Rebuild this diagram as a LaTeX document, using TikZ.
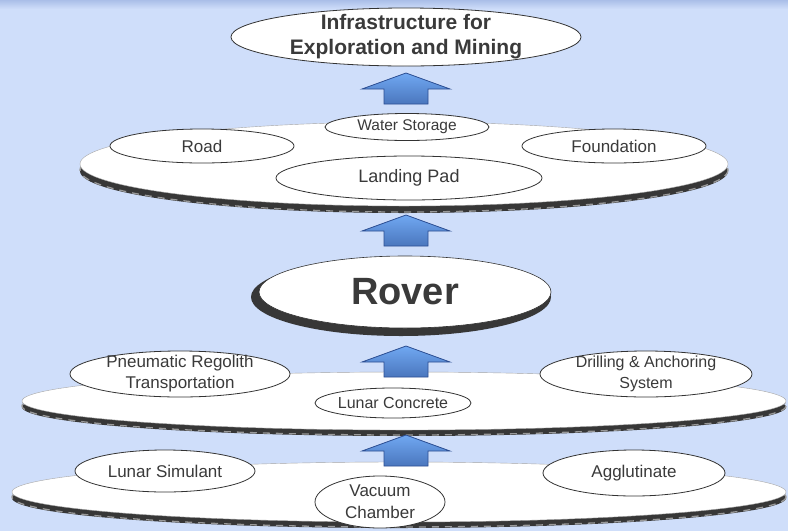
\documentclass[tikz,border=0pt]{standalone}
\usepackage{fontspec}
\setmainfont{Liberation Sans}
\usetikzlibrary{shapes.geometric}

\definecolor{bgblue}{RGB}{207,222,250}
\definecolor{bgtop}{RGB}{170,190,232}
\definecolor{rimgray}{RGB}{55,55,55}
\definecolor{facegray}{RGB}{178,178,178}
\definecolor{inkgray}{RGB}{58,58,58}
\definecolor{arrowlight}{RGB}{112,168,242}
\definecolor{arrowdark}{RGB}{44,78,146}

% white top of a platform, going grey towards the rim
\pgfdeclareradialshading{discface}{\pgfpoint{0bp}{0bp}}{color(0bp)=(white); color(30bp)=(white); color(50bp)=(facegray)}

\tikzset{
  disc/.style={ellipse, draw=gray!70, inner sep=0pt, shading=discface},
  oval/.style={ellipse, draw=black!80, line width=0.8pt, fill=white, inner sep=0pt},
  txt/.style={text=inkgray, align=center, font=\fontsize{17}{21}\selectfont},
  blockarrow/.style={draw=arrowdark, line width=0.8pt, top color=arrowlight, bottom color=arrowdark!55!arrowlight},
}

\begin{document}
\begin{tikzpicture}[x=1pt, y=-1pt]
  \useasboundingbox (0,0) rectangle (788,531);
  \fill[bgblue] (0,0) rectangle (788,531);
  \shade[top color=bgtop, bottom color=bgblue] (0,0) rectangle (788,9);

  % the three platforms: rim first, face on top
  \foreach \n/\cx/\cy/\rx/\ry/\s in {1/404/164/324/42/7, 2/404/401/382/29/6, 3/399/492/387/30/6}{
    \fill[rimgray] (\cx,\cy+\s) ellipse [x radius=\rx, y radius=\ry];
    \draw[black!40, line width=1.3pt, dash pattern=on 7pt off 6pt] (\cx,\cy+\s-1) ellipse [x radius=\rx, y radius=\ry];
    \node[disc, minimum width={2*\rx*1pt}, minimum height={2*\ry*1pt}] (disc\n) at (\cx,\cy) {};
  }

  % goal
  \node[oval, minimum width=350pt, minimum height=58pt,
        label={[txt, font=\bfseries\fontsize{21}{25}\selectfont]center:{Infrastructure for\\Exploration and Mining}}] (infra) at (406,37) {};

  % upper platform
  \node[oval, minimum width=164pt, minimum height=27pt,
        label={[txt, font=\fontsize{15.5}{18}\selectfont]center:Water Storage}] (water) at (407,127) {};
  \node[oval, minimum width=184pt, minimum height=34pt, label={[txt]center:Road}] (road) at (202,146) {};
  \node[oval, minimum width=184pt, minimum height=34pt, label={[txt]center:Foundation}] (found) at (614,146) {};
  \node[oval, minimum width=266pt, minimum height=44pt,
        label={[txt, font=\fontsize{18}{21}\selectfont]center:Landing Pad}] (landing) at (409,178) {};

  % rover
  \fill[rimgray] (401,297) ellipse [x radius=150, y radius=39];
  \node[oval, line width=0.6pt, minimum width=292pt, minimum height=72pt,
        label={[txt, font=\bfseries\fontsize{38}{40}\selectfont]center:Rover}] (rover) at (405,292) {};

  % middle platform
  \node[oval, minimum width=220pt, minimum height=46pt,
        label={[txt]center:{Pneumatic Regolith\\Transportation}}] (pneu) at (180,374) {};
  \node[oval, minimum width=156pt, minimum height=30pt,
        label={[txt, font=\fontsize{16}{19}\selectfont]center:Lunar Concrete}] (concrete) at (393,403) {};
  \node[oval, minimum width=212pt, minimum height=46pt,
        label={[txt, font=\fontsize{16}{21}\selectfont]center:{Drilling \& Anchoring\\System}}] (drill) at (646,374) {};

  % lower platform
  \node[oval, minimum width=180pt, minimum height=42pt, label={[txt]center:Lunar Simulant}] (simulant) at (165,471) {};
  \node[oval, minimum width=130pt, minimum height=52pt,
        label={[txt, font=\fontsize{17}{22}\selectfont]center:{Vacuum\\Chamber}}] (vacuum) at (380,502) {};
  \node[oval, minimum width=182pt, minimum height=46pt, label={[txt]center:Agglutinate}] (agglut) at (634,473) {};

  % block arrows between the levels
  \foreach \n/\y in {1/104, 2/246, 3/377, 4/466}{
    \coordinate (up\n) at (406,\y);
    \draw[blockarrow] (384,\y) -- (384,\y-15) -- (362,\y-15) -- (406,\y-31)
      -- (450,\y-15) -- (428,\y-15) -- (428,\y) -- cycle;
  }
\end{tikzpicture}
\end{document}
